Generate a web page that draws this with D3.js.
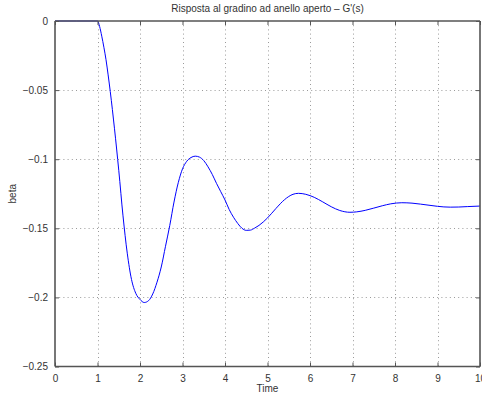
<!DOCTYPE html>
<html><head><meta charset="utf-8">
<script src="https://cdn.jsdelivr.net/npm/d3@7"></script>
<style>
html,body{margin:0;padding:0;background:#fff;}
svg{display:block;}
text{font-family:"Liberation Sans",Arial,Helvetica,sans-serif;fill:#333;}
</style></head><body>
<svg id="chart" width="482" height="396"></svg>
<script>
const title = "Risposta al gradino ad anello aperto \u2013 G'(s)";
const xLabel = "Time";
const yLabel = "beta";
const xTicks = [0,1,2,3,4,5,6,7,8,9,10];
const yTicks = [0,-0.05,-0.1,-0.15,-0.2,-0.25];
const timeValues = [0,0.5,1.0,1.05,1.1,1.15,1.2,1.25,1.3,1.4,1.5,1.6,1.7,1.8,1.9,2.0,2.1,2.2,2.3,2.4,2.5,2.6,2.7,2.8,2.9,3.0,3.1,3.2,3.3,3.4,3.5,3.6,3.7,3.8,3.9,4.0,4.1,4.2,4.3,4.4,4.5,4.6,4.7,4.8,5.0,5.2,5.4,5.6,5.73,5.9,6.1,6.3,6.5,6.7,6.94,7.1,7.3,7.5,7.7,7.9,8.16,8.4,8.6,8.8,9.0,9.3,9.5,9.7,10.0];
const betaValues = [0,0,0,-0.004,-0.011,-0.019,-0.028,-0.039,-0.051,-0.078,-0.108,-0.141,-0.168,-0.187,-0.197,-0.2015,-0.2037,-0.2024,-0.1975,-0.189,-0.178,-0.163,-0.148,-0.131,-0.117,-0.107,-0.1015,-0.0988,-0.0978,-0.0985,-0.101,-0.1055,-0.111,-0.1175,-0.1235,-0.1295,-0.1365,-0.142,-0.1465,-0.150,-0.1515,-0.1513,-0.1498,-0.1479,-0.1425,-0.1356,-0.1293,-0.1254,-0.1247,-0.1254,-0.1276,-0.1309,-0.1344,-0.1371,-0.1384,-0.1381,-0.137,-0.1354,-0.1337,-0.1323,-0.1315,-0.1318,-0.1325,-0.1333,-0.1341,-0.1347,-0.1346,-0.1343,-0.1339];

const data = timeValues.map((t,i)=>({t, y: betaValues[i]}));
const m = {left:55, right:2, top:21, bottom:29.5};
const W = 482, H = 396;
const x = d3.scaleLinear().domain([0,10]).range([m.left, W-m.right]);
const y = d3.scaleLinear().domain([-0.25,0]).range([H-m.bottom, m.top]);
const svg = d3.select("#chart");

// grid
const grid = svg.append("g").attr("stroke","#9a9a9a").attr("stroke-width",1).attr("stroke-dasharray","1,3.2");
grid.selectAll("line.vx").data(xTicks.slice(1,-1)).join("line")
  .attr("x1",d=>Math.round(x(d))+0.5).attr("x2",d=>Math.round(x(d))+0.5)
  .attr("y1",y(0)).attr("y2",y(-0.25));
grid.selectAll("line.hy").data(yTicks.slice(1,-1)).join("line")
  .attr("y1",d=>Math.round(y(d))+0.5).attr("y2",d=>Math.round(y(d))+0.5)
  .attr("x1",x(0)).attr("x2",x(10));

// line
svg.append("path").datum(data)
  .attr("fill","none").attr("stroke","#0000ff").attr("stroke-width",1)
  .attr("d", d3.line().x(d=>x(d.t)).y(d=>y(d.y)).curve(d3.curveMonotoneX));

// axes
const fmtY = d => d===0 ? "0" : "\u2212" + String(Math.abs(d));
const axB = d3.axisBottom(x).tickValues(xTicks).tickSize(-4).tickPadding(8).tickFormat(d=>String(d));
const axT = d3.axisTop(x).tickValues(xTicks).tickSize(-4).tickFormat("");
const axL = d3.axisLeft(y).tickValues(yTicks).tickSize(-4).tickPadding(7).tickFormat(fmtY);
const axR = d3.axisRight(y).tickValues(yTicks).tickSize(-4).tickFormat("");
function style(g){
  g.select(".domain").attr("stroke","#555").attr("stroke-width",1.6);
  g.selectAll(".tick line").attr("stroke","#555").attr("stroke-width",1);
  g.selectAll(".tick text").attr("font-size",10).attr("fill","#333")
   .attr("font-family","'Liberation Sans',Arial,sans-serif");
}
svg.append("g").attr("transform",`translate(0,${y(-0.25)})`).call(axB).call(style).call(g=>g.select(".domain").attr("d",`M${x(0)},0H${x(10)}`));
svg.append("g").attr("transform",`translate(0,${y(0)})`).call(axT).call(style).call(g=>g.select(".domain").attr("d",`M${x(0)},0H${x(10)}`));
svg.append("g").attr("transform",`translate(${x(0)},0)`).call(axL).call(style).call(g=>g.select(".domain").attr("d",`M0,${y(0)}V${y(-0.25)}`));
svg.append("g").attr("transform",`translate(${x(10)},0)`).call(axR).call(style).call(g=>g.select(".domain").attr("d",`M0,${y(0)}V${y(-0.25)}`));

// labels
svg.append("text").attr("x",(x(0)+x(10))/2).attr("y",12).attr("text-anchor","middle").attr("font-size",10).text(title);
svg.append("text").attr("x",(x(0)+x(10))/2).attr("y",392).attr("text-anchor","middle").attr("font-size",10).text(xLabel);
svg.append("text").attr("transform",`translate(16,${(y(0)+y(-0.25))/2}) rotate(-90)`).attr("text-anchor","middle").attr("font-size",10).text(yLabel);
</script></body></html>
